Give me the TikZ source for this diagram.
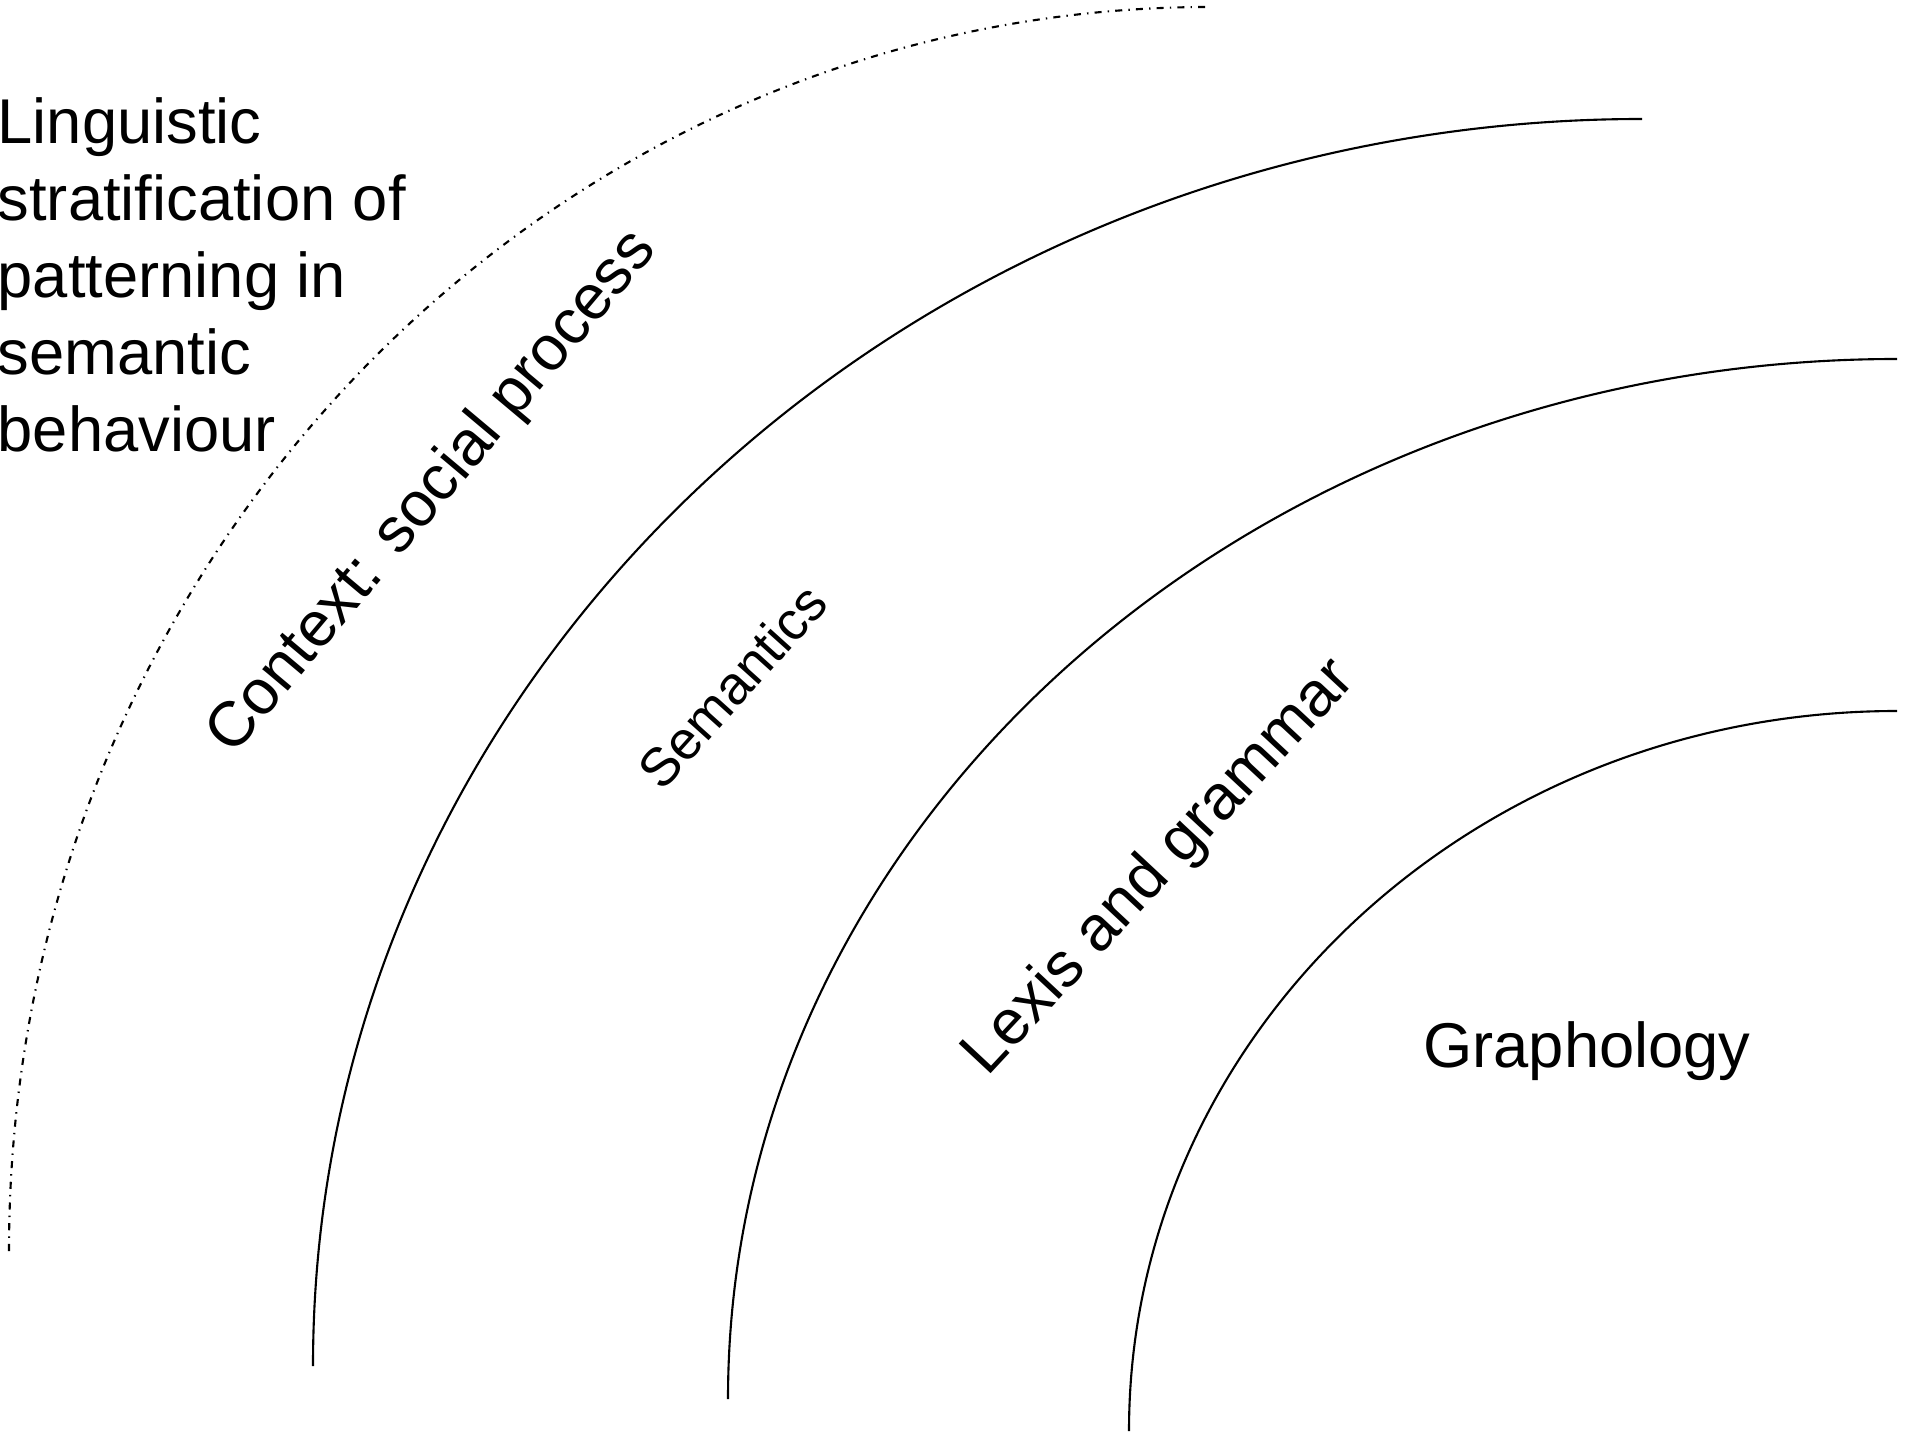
\documentclass[tikz,border=0pt]{standalone}
\usepackage{fontspec}
\setmainfont{Liberation Sans}
\tikzset{%
  bound/.style={draw, line width=0.6pt},% solid boundary between strata
  outer bound/.style={bound, dash pattern=on 2pt off 1.75pt on 0.4pt off 1.75pt},% context boundary
  stratum/.style={inner sep=0pt, font=\fontsize{18}{21.9}\selectfont},% stratum label
  small stratum/.style={stratum, font=\fontsize{15.3}{18}\selectfont}
}
\begin{document}
\begin{tikzpicture}[x=0.01cm, y=-0.01cm]
\useasboundingbox (0,0) rectangle (1909,1434);

\draw[outer bound] (9,1251) arc[start angle=180, end angle=270, x radius=1201, y radius=1244];
\draw[bound] (313,1366) arc[start angle=180, end angle=270, x radius=1329, y radius=1247];
\draw[bound] (728,1399) arc[start angle=180, end angle=270, x radius=1169, y radius=1040];
\draw[bound] (1129,1431) arc[start angle=180, end angle=270, x radius=768, y radius=720];

\node[stratum, align=left, anchor=north west] (title) at (-3,97) {Linguistic\\stratification of\\patterning in\\semantic\\behaviour};
\node[stratum, rotate=50] (context) at (433,493) {Context: social process};
\node[small stratum, rotate=48] (semantics) at (732,686) {Semantics};
\node[stratum, rotate=47] (lexis) at (1160,868) {Lexis and grammar};
\node[stratum, anchor=base] (graphology) at (1587,1067) {Graphology};

\end{tikzpicture}
\end{document}
